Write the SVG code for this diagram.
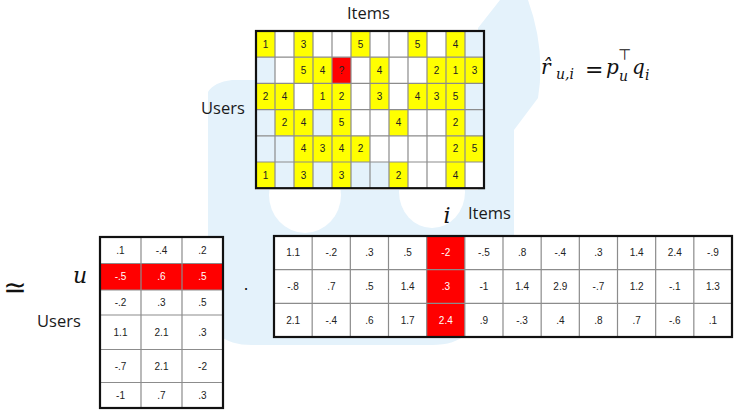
<svg xmlns="http://www.w3.org/2000/svg" width="740" height="419" viewBox="0 0 740 419">
<style>
.bg{fill:#ffffff}
.wm{fill:#e4f2fb}
.hole{fill:#ffffff}
.y{fill:#ffff00}
.r{fill:#ff0000}
.lb{fill:#e4f2fb}
.cellw{fill:#ffffff}
.grid{fill:none;stroke:#8c8c8c;stroke-width:1.2}
.border{fill:none;stroke:#111111;stroke-width:2.2}
.lbl{font-family:"Open Sans","Liberation Sans",sans-serif;font-size:16.5px;fill:#1a1a1a}
.n{font-family:"Liberation Sans",Arial,sans-serif;font-size:10px;fill:#222222;text-anchor:middle}
.nw{fill:#ffffff}
.m{font-family:"DejaVu Serif","Liberation Serif",serif;font-style:italic;fill:#111111}
.ms{font-family:"DejaVu Sans",sans-serif;fill:#111111}
</style>
<rect class="bg" x="0" y="0" width="740" height="419"/>
<g id="watermark">
<path class="wm" d="M208,92 Q214,82 232,80 L256,80 L256,190 L478,190 L478,300 Q478,345 432,345 L252,345 Q208,345 208,305 Z"/>
<path class="wm" d="M500,0 L528,0 Q546,50 538,98 L514,130 L514,240 L478,240 L478,28 Z"/>
<ellipse class="hole" cx="305" cy="195" rx="36" ry="38"/>
<ellipse class="hole" cx="432" cy="192" rx="33" ry="36"/>
</g>
<g id="connectors"></g>
<g id="ratings-matrix">
<rect class="cellw" x="256" y="31" width="228" height="157.2"/>
<rect class="y" x="256" y="31" width="19" height="26.2"/>
<rect class="y" x="294" y="31" width="19" height="26.2"/>
<rect class="y" x="351" y="31" width="19" height="26.2"/>
<rect class="y" x="408" y="31" width="19" height="26.2"/>
<rect class="y" x="446" y="31" width="19" height="26.2"/>
<rect class="lb" x="465" y="31" width="19" height="26.2"/>
<rect class="lb" x="256" y="57.2" width="19" height="26.2"/>
<rect class="y" x="294" y="57.2" width="38" height="26.2"/>
<rect class="r" x="332" y="57.2" width="19" height="26.2"/>
<rect class="y" x="370" y="57.2" width="19" height="26.2"/>
<rect class="y" x="427" y="57.2" width="57" height="26.2"/>
<rect class="y" x="256" y="83.4" width="38" height="26.2"/>
<rect class="y" x="313" y="83.4" width="38" height="26.2"/>
<rect class="y" x="370" y="83.4" width="19" height="26.2"/>
<rect class="y" x="408" y="83.4" width="57" height="26.2"/>
<rect class="lb" x="465" y="83.4" width="19" height="26.2"/>
<rect class="lb" x="256" y="109.6" width="19" height="26.2"/>
<rect class="y" x="275" y="109.6" width="38" height="26.2"/>
<rect class="lb" x="313" y="109.6" width="19" height="26.2"/>
<rect class="y" x="332" y="109.6" width="19" height="26.2"/>
<rect class="y" x="389" y="109.6" width="19" height="26.2"/>
<rect class="y" x="446" y="109.6" width="19" height="26.2"/>
<rect class="lb" x="465" y="109.6" width="19" height="26.2"/>
<rect class="lb" x="256" y="135.8" width="38" height="26.2"/>
<rect class="y" x="294" y="135.8" width="76" height="26.2"/>
<rect class="y" x="446" y="135.8" width="38" height="26.2"/>
<rect class="y" x="256" y="162" width="19" height="26.2"/>
<rect class="lb" x="275" y="162" width="19" height="26.2"/>
<rect class="y" x="294" y="162" width="19" height="26.2"/>
<rect class="lb" x="313" y="162" width="19" height="26.2"/>
<rect class="y" x="332" y="162" width="19" height="26.2"/>
<rect class="lb" x="351" y="162" width="38" height="26.2"/>
<rect class="y" x="389" y="162" width="19" height="26.2"/>
<rect class="y" x="446" y="162" width="19" height="26.2"/>
<path class="grid" d="M275,31V188.2M294,31V188.2M313,31V188.2M332,31V188.2M351,31V188.2M370,31V188.2M389,31V188.2M408,31V188.2M427,31V188.2M446,31V188.2M465,31V188.2M256,57.2H484M256,83.4H484M256,109.6H484M256,135.8H484M256,162H484"/>
<rect class="border" x="256" y="31" width="228" height="157.2"/>
<text class="n" x="265.5" y="47.6">1</text>
<text class="n" x="303.5" y="47.6">3</text>
<text class="n" x="360.5" y="47.6">5</text>
<text class="n" x="417.5" y="47.6">5</text>
<text class="n" x="455.5" y="47.6">4</text>
<text class="n" x="303.5" y="73.8">5</text>
<text class="n" x="322.5" y="73.8">4</text>
<text class="n" x="341.5" y="73.8">?</text>
<text class="n" x="379.5" y="73.8">4</text>
<text class="n" x="436.5" y="73.8">2</text>
<text class="n" x="455.5" y="73.8">1</text>
<text class="n" x="474.5" y="73.8">3</text>
<text class="n" x="265.5" y="100">2</text>
<text class="n" x="284.5" y="100">4</text>
<text class="n" x="322.5" y="100">1</text>
<text class="n" x="341.5" y="100">2</text>
<text class="n" x="379.5" y="100">3</text>
<text class="n" x="417.5" y="100">4</text>
<text class="n" x="436.5" y="100">3</text>
<text class="n" x="455.5" y="100">5</text>
<text class="n" x="284.5" y="126.2">2</text>
<text class="n" x="303.5" y="126.2">4</text>
<text class="n" x="341.5" y="126.2">5</text>
<text class="n" x="398.5" y="126.2">4</text>
<text class="n" x="455.5" y="126.2">2</text>
<text class="n" x="303.5" y="152.4">4</text>
<text class="n" x="322.5" y="152.4">3</text>
<text class="n" x="341.5" y="152.4">4</text>
<text class="n" x="360.5" y="152.4">2</text>
<text class="n" x="455.5" y="152.4">2</text>
<text class="n" x="474.5" y="152.4">5</text>
<text class="n" x="265.5" y="178.6">1</text>
<text class="n" x="303.5" y="178.6">3</text>
<text class="n" x="341.5" y="178.6">3</text>
<text class="n" x="398.5" y="178.6">2</text>
<text class="n" x="455.5" y="178.6">4</text>
</g>
<g id="label-items-top"><text class="lbl" x="347" y="19">Items</text></g>
<g id="label-users-top"><text class="lbl" x="201" y="114">Users</text></g>
<g id="formula">
<text class="m" x="541" y="74" font-size="20">r̂</text>
<text class="m" x="556" y="79" font-size="14">u,i</text>
<text class="ms" x="585" y="77" font-size="22">=</text>
<text class="m" x="606" y="74" font-size="20">p</text>
<text class="ms" x="618" y="60" font-size="15">⊤</text>
<text class="m" x="619" y="81" font-size="14">u</text>
<text class="m" x="632" y="74" font-size="20">q</text>
<text class="m" x="645" y="80" font-size="14">i</text>
</g>
<g id="approx"><text class="ms" x="15" y="297" font-size="28" text-anchor="middle">≃</text></g>
<g id="label-u"><text class="m" x="80" y="283" font-size="22" text-anchor="middle">u</text></g>
<g id="label-users-bottom"><text class="lbl" x="37" y="327">Users</text></g>
<g id="user-factors">
<rect class="cellw" x="100" y="237" width="123" height="171"/>
<rect class="r" x="100" y="263.5" width="123" height="26.5"/>
<path class="grid" d="M141,237V408M182,237V408M100,263.5H223M100,290H223M100,315H223M100,349.5H223M100,382.5H223"/>
<rect class="border" x="100" y="237" width="123" height="171"/>
<text class="n" x="120.5" y="253.8">.1</text><text class="n" x="161.5" y="253.8">-.4</text><text class="n" x="202.5" y="253.8">.2</text>
<text class="n nw" x="120.5" y="280.3">-.5</text><text class="n nw" x="161.5" y="280.3">.6</text><text class="n nw" x="202.5" y="280.3">.5</text>
<text class="n" x="120.5" y="306">-.2</text><text class="n" x="161.5" y="306">.3</text><text class="n" x="202.5" y="306">.5</text>
<text class="n" x="120.5" y="335.8">1.1</text><text class="n" x="161.5" y="335.8">2.1</text><text class="n" x="202.5" y="335.8">.3</text>
<text class="n" x="120.5" y="369.5">-.7</text><text class="n" x="161.5" y="369.5">2.1</text><text class="n" x="202.5" y="369.5">-2</text>
<text class="n" x="120.5" y="398.8">-1</text><text class="n" x="161.5" y="398.8">.7</text><text class="n" x="202.5" y="398.8">.3</text>
</g>
<g id="dot"><text class="ms" x="246" y="290" font-size="16" text-anchor="middle">.</text></g>
<g id="label-i"><text class="m" x="447" y="223" font-size="22" text-anchor="middle">i</text></g>
<g id="label-items-bottom"><text class="lbl" x="468" y="219">Items</text></g>
<g id="item-factors">
<rect class="cellw" x="274" y="236" width="458" height="101"/>
<rect class="r" x="426.67" y="236" width="38.16" height="101"/>
<path class="grid" d="M312.17,236V337M350.33,236V337M388.5,236V337M426.67,236V337M464.83,236V337M503,236V337M541.17,236V337M579.33,236V337M617.5,236V337M655.67,236V337M693.83,236V337M274,269.67H732M274,303.33H732"/>
<rect class="border" x="274" y="236" width="458" height="101"/>
<text class="n" x="293.1" y="256.3">1.1</text><text class="n" x="331.3" y="256.3">-.2</text><text class="n" x="369.4" y="256.3">.3</text><text class="n" x="407.6" y="256.3">.5</text><text class="n nw" x="445.8" y="256.3">-2</text><text class="n" x="483.9" y="256.3">-.5</text><text class="n" x="522.1" y="256.3">.8</text><text class="n" x="560.3" y="256.3">-.4</text><text class="n" x="598.4" y="256.3">.3</text><text class="n" x="636.6" y="256.3">1.4</text><text class="n" x="674.8" y="256.3">2.4</text><text class="n" x="712.9" y="256.3">-.9</text>
<text class="n" x="293.1" y="290">-.8</text><text class="n" x="331.3" y="290">.7</text><text class="n" x="369.4" y="290">.5</text><text class="n" x="407.6" y="290">1.4</text><text class="n nw" x="445.8" y="290">.3</text><text class="n" x="483.9" y="290">-1</text><text class="n" x="522.1" y="290">1.4</text><text class="n" x="560.3" y="290">2.9</text><text class="n" x="598.4" y="290">-.7</text><text class="n" x="636.6" y="290">1.2</text><text class="n" x="674.8" y="290">-.1</text><text class="n" x="712.9" y="290">1.3</text>
<text class="n" x="293.1" y="323.7">2.1</text><text class="n" x="331.3" y="323.7">-.4</text><text class="n" x="369.4" y="323.7">.6</text><text class="n" x="407.6" y="323.7">1.7</text><text class="n nw" x="445.8" y="323.7">2.4</text><text class="n" x="483.9" y="323.7">.9</text><text class="n" x="522.1" y="323.7">-.3</text><text class="n" x="560.3" y="323.7">.4</text><text class="n" x="598.4" y="323.7">.8</text><text class="n" x="636.6" y="323.7">.7</text><text class="n" x="674.8" y="323.7">-.6</text><text class="n" x="712.9" y="323.7">.1</text>
</g>
</svg>
